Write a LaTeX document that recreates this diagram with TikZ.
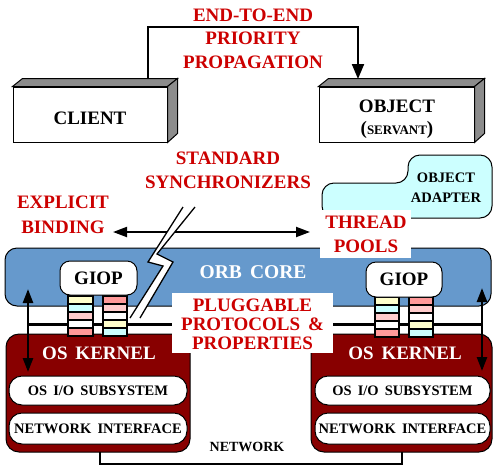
\documentclass[tikz,border=0pt]{standalone}
\usepackage{fontspec}
\setmainfont{Liberation Serif}
\usetikzlibrary{arrows.meta,calc}
\definecolor{txtred}{RGB}{204,0,0}
\definecolor{kernelred}{RGB}{136,0,0}
\definecolor{orbblue}{RGB}{102,153,204}
\definecolor{adaptcyan}{RGB}{204,255,255}
\definecolor{stYel}{RGB}{255,255,204}
\definecolor{stCyan}{RGB}{204,255,255}
\definecolor{stPink}{RGB}{255,204,204}
\definecolor{stSalmon}{RGB}{255,153,153}
\definecolor{faceGray}{RGB}{140,140,140}
\begin{document}
\begin{tikzpicture}[x=1pt,y=-1pt,
  lbl/.style={font=\bfseries\fontsize{19}{23.5}\selectfont, text=txtred, align=center, inner sep=0pt},
  blk/.style={font=\bfseries\fontsize{19}{23}\selectfont, text=black, align=center, inner sep=0pt},
  wht/.style={font=\bfseries\fontsize{19}{23}\selectfont, text=white, align=center, inner sep=0pt},
  small/.style={font=\bfseries\fontsize{14.5}{20}\selectfont, text=black, align=center, inner sep=0pt},
  front/.style={draw=black, line width=1pt, fill=white, inner sep=0pt},
  face/.style={draw=black, line width=1pt, fill=faceGray},
  conn/.style={draw=black, line width=2pt},
  tip/.style={-{Triangle[length=15pt,width=12pt]}},
  dbl/.style={{Triangle[length=14pt,width=10pt]}-{Triangle[length=14pt,width=10pt]}},
  pill/.style={draw=black, line width=1pt, fill=white, rounded corners=13pt, inner sep=0pt},
  kernel/.style={draw=black, line width=1pt, fill=kernelred, rounded corners=13pt, inner sep=0pt},
  giop/.style={draw=black, line width=1pt, fill=white, rounded corners=10pt, inner sep=0pt,
    font=\bfseries\fontsize{19}{23}\selectfont},
  whitebox/.style={fill=white, inner sep=0pt},
  cell/.style={draw=black, line width=1.4pt}
]
\useasboundingbox (0,0) rectangle (493,467);

% ---------- top: client / object ----------
\node[front, minimum width=154pt, minimum height=55pt] (client) at (90,114.5) {};
\draw[face] (client.north west) -- ++(10,-8) -- ($(client.north east)+(10,-8)$) -- (client.north east) -- cycle;
\draw[face] (client.north east) -- ++(10,-8) -- ($(client.south east)+(10,-9)$) -- (client.south east) -- cycle;
\node[blk] (clientlbl) at (90,118.5) {CLIENT};

\node[front, minimum width=155pt, minimum height=55pt] (object) at (396.5,114.5) {};
\draw[face] (object.north west) -- ++(10,-8) -- ($(object.north east)+(10,-8)$) -- (object.north east) -- cycle;
\draw[face] (object.north east) -- ++(10,-8) -- ($(object.south east)+(10,-9)$) -- (object.south east) -- cycle;
\node[blk] (objectlbl) at (397,106.5) {OBJECT};
\node[blk, anchor=base] (servantlbl) at (397,134) {(\fontsize{13}{15}\selectfont SERVANT\fontsize{19}{23}\selectfont)};

\coordinate (clTop) at (148,79);
\coordinate (obTop) at (358,79);
\draw[conn, tip] (clTop) -- (148,27) -| (obTop);
\node[lbl] (e2e) at (253,38.5) {END-TO-END\\PRIORITY\\PROPAGATION};

% ---------- middle labels ----------
\node[lbl, font=\bfseries\fontsize{19}{24}\selectfont] (sync) at (228,170) {STANDARD\\SYNCHRONIZERS};
\node[lbl, font=\bfseries\fontsize{19}{25.5}\selectfont] (binding) at (63,215) {EXPLICIT\\BINDING};

% object adapter
\draw[draw=black, line width=1pt, fill=adaptcyan, rounded corners=12pt]
  (322,218) -- (322,183) -- (408,183) -- (408,155) -- (492,155) -- (492,218) -- cycle;
\node[small] (adapter) at (446,188) {OBJECT\\ADAPTER};

% horizontal double arrow
\coordinate (hL) at (113,232);
\coordinate (hR) at (310,232);
\draw[conn, dbl] (hL) -- (hR);

% ORB core
\node[draw=black, line width=1pt, fill=orbblue, rounded corners=12pt, minimum width=486pt, minimum height=58pt, inner sep=0pt] (orb) at (248,277) {};
\node[wht, font=\bfseries\fontsize{19.5}{23}\selectfont] (orblbl) at (253,272) {ORB\,\ CORE};

% band line
\coordinate (bandL) at (28,324.5);
\coordinate (bandR) at (482,324.5);
\draw[black, line width=2.5pt] (bandL) -- (bandR);

% ---------- kernels ----------
\node[kernel, minimum width=184pt, minimum height=118pt] (kL) at (98,393) {};
\node[wht] (kLlbl) at (99,353) {OS\, KERNEL};
\node[pill, minimum width=178pt, minimum height=29pt, small] (ioL) at (98,390.5) {OS\,\ I/O\,\ SUBSYSTEM};
\node[pill, minimum width=178pt, minimum height=31pt, small] (niL) at (98,428.5) {NETWORK\,\ INTERFACE};

\node[kernel, minimum width=181pt, minimum height=118pt] (kR) at (401.5,393) {};
\node[wht] (kRlbl) at (405,353) {OS\, KERNEL};
\node[pill, minimum width=175pt, minimum height=29pt, small] (ioR) at (402.5,390.5) {OS\,\ I/O\,\ SUBSYSTEM};
\node[pill, minimum width=175pt, minimum height=31pt, small] (niR) at (402.5,428.5) {NETWORK\,\ INTERFACE};

% network
\coordinate (netL) at (100,452);
\coordinate (netR) at (402,452);
\draw[black, line width=2.5pt] (netL) -- (100,464) -- (402,464) -- (netR);
\node[small, font=\bfseries\fontsize{14}{16}\selectfont] (netlbl) at (247,447) {NETWORK};

% ---------- protocol stacks ----------
\foreach \x/\c [count=\i from 0] in {68/stYel,68/stCyan,68/stPink,68/white,68/stSalmon}{
  \filldraw[cell, fill=\c] (68,296+8*\i) rectangle (93,304+8*\i);
}
\foreach \c [count=\i from 0] in {stSalmon,stPink,white,stYel,stCyan}{
  \filldraw[cell, fill=\c] (103,296+8*\i) rectangle (127,304+8*\i);
}
\foreach \c [count=\i from 0] in {stYel,stCyan,stPink,white,stSalmon}{
  \filldraw[cell, fill=\c] (375,297+8*\i) rectangle (399,305+8*\i);
}
\foreach \c [count=\i from 0] in {stSalmon,stPink,white,stYel,stCyan}{
  \filldraw[cell, fill=\c] (409,297+8*\i) rectangle (433,305+8*\i);
}

\node[giop, minimum width=77pt, minimum height=34pt] (giopL) at (98.5,278) {GIOP};
\node[giop, minimum width=76pt, minimum height=35pt] (giopR) at (404,279.5) {GIOP};

% ---------- lightning break ----------
\fill[white] (183,207) -- (148,262) -- (163,266) -- (130,318) -- (140,318) -- (173,262) -- (157,254) -- (195,207) -- cycle;
\draw[black, line width=1.3pt, line join=miter] (183,207) -- (148,262) -- (163,266) -- (130,318);
\draw[black, line width=1.3pt, line join=miter] (195,207) -- (157,254) -- (173,262) -- (140,318);

% ---------- white label boxes ----------
\node[whitebox, minimum width=161pt, minimum height=60pt] (plugbox) at (252.5,323) {};
\node[lbl, font=\bfseries\fontsize{19}{19}\selectfont] (pluglbl) at (252.5,324) {PLUGGABLE\\PROTOCOLS\,\ \&\\PROPERTIES};
\node[whitebox, minimum width=91pt, minimum height=48pt] (poolbox) at (365.5,234) {};
\node[lbl, font=\bfseries\fontsize{19}{24}\selectfont] (poollbl) at (366,234) {THREAD\\POOLS};

% ---------- vertical double arrows ----------
\coordinate (vLt) at (28,289);
\coordinate (vLb) at (28,372);
\coordinate (vRt) at (482,288);
\coordinate (vRb) at (482,371);
\draw[black, line width=2.5pt, dbl] (vLt) -- (vLb);
\draw[black, line width=2.5pt, dbl] (vRt) -- (vRb);
\end{tikzpicture}
\end{document}
